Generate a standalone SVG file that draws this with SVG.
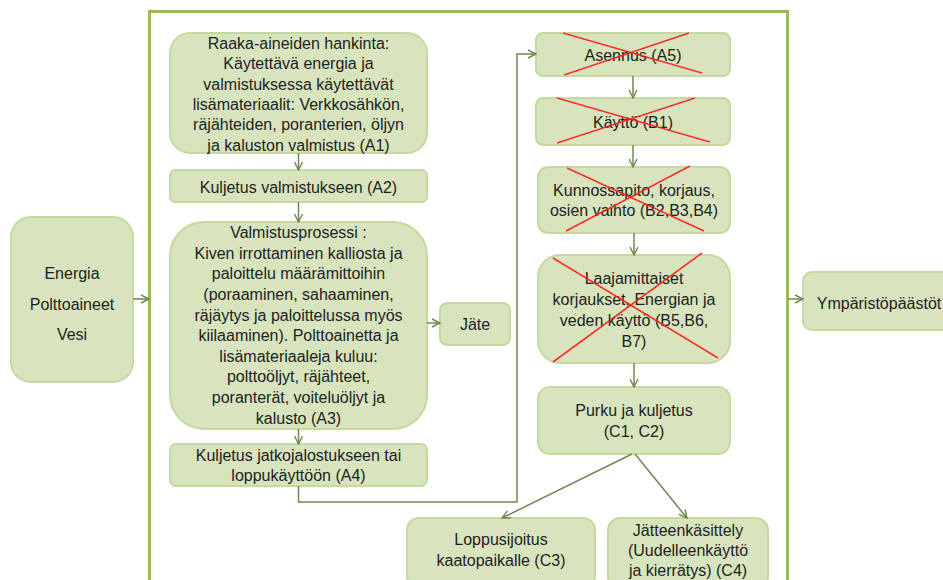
<svg xmlns="http://www.w3.org/2000/svg" width="943" height="580" viewBox="0 0 943 580">
<defs>
<style>
.box{fill:#d7e4bd;stroke:#c6d99f;stroke-width:2}
.frame{fill:none;stroke:#9bbb59;stroke-width:3}
.t{font-family:"Liberation Sans",Arial,sans-serif;font-size:16px;fill:#1e1e1e;text-anchor:middle}
.c{fill:none;stroke:#71874f;stroke-width:1.5}
.x{stroke:#ff1f1f;stroke-width:1.6;opacity:0.9}
</style>
<marker id="arr" viewBox="0 0 10 10" refX="9" refY="5" markerWidth="10" markerHeight="10" markerUnits="userSpaceOnUse" orient="auto">
<path d="M1,1 L9,5 L1,9" fill="none" stroke="#71874f" stroke-width="1.4"/>
</marker>
</defs>
<rect width="943" height="580" fill="#fff"/>
<rect class="frame" x="149.5" y="11.5" width="638" height="600"/>

<g id="energia">
<rect class="box" x="11" y="217" width="122" height="165" rx="20"/>
<text class="t" x="72" y="279">Energia</text>
<text class="t" x="72" y="309.5">Polttoaineet</text>
<text class="t" x="72" y="340">Vesi</text>
</g>

<g id="a1">
<rect class="box" x="170" y="33" width="257" height="120" rx="20"/>
<text class="t" x="298.5" y="48.8">Raaka-aineiden hankinta:</text>
<text class="t" x="298.5" y="69.2">Käytettävä energia ja</text>
<text class="t" x="298.5" y="89.6">valmistuksessa käytettävät</text>
<text class="t" x="298.5" y="110">lisämateriaalit: Verkkosähkön,</text>
<text class="t" x="298.5" y="130.4">räjähteiden, poranterien, öljyn</text>
<text class="t" x="298.5" y="150.8">ja kaluston valmistus (A1)</text>
</g>

<g id="a2">
<rect class="box" x="170" y="170" width="257" height="32" rx="5"/>
<text class="t" x="298.5" y="192.5">Kuljetus valmistukseen (A2)</text>
</g>

<g id="a3">
<rect class="box" x="170" y="222" width="257" height="207" rx="34"/>
<text class="t" x="298.5" y="238.2">Valmistusprosessi :</text>
<text class="t" x="298.5" y="258.8">Kiven irrottaminen kalliosta ja</text>
<text class="t" x="298.5" y="279.4">paloittelu määrämittoihin</text>
<text class="t" x="298.5" y="300">(poraaminen, sahaaminen,</text>
<text class="t" x="298.5" y="320.6">räjäytys ja paloittelussa myös</text>
<text class="t" x="298.5" y="341.2">kiilaaminen). Polttoainetta ja</text>
<text class="t" x="298.5" y="361.8">lisämateriaaleja kuluu:</text>
<text class="t" x="298.5" y="382.4">polttoöljyt,  räjähteet,</text>
<text class="t" x="298.5" y="403">poranterät, voiteluöljyt ja</text>
<text class="t" x="298.5" y="423.6">kalusto (A3)</text>
</g>

<g id="jate">
<rect class="box" x="440" y="303" width="70" height="42" rx="7"/>
<text class="t" x="475" y="329.5">Jäte</text>
</g>

<g id="a4">
<rect class="box" x="170" y="444" width="257" height="42" rx="6"/>
<text class="t" x="298.5" y="460.5">Kuljetus jatkojalostukseen tai</text>
<text class="t" x="298.5" y="481">loppukäyttöön (A4)</text>
</g>

<g id="a5">
<rect class="box" x="536" y="33" width="194" height="43" rx="7"/>
<text class="t" x="633" y="60.5">Asennus (A5)</text>
<line class="x" x1="563" y1="33" x2="702" y2="73"/>
<line class="x" x1="564" y1="75" x2="689" y2="33"/>
</g>

<g id="b1">
<rect class="box" x="536" y="98" width="194" height="47" rx="7"/>
<text class="t" x="633" y="127.5">Käyttö (B1)</text>
<line class="x" x1="557" y1="98" x2="710" y2="142"/>
<line class="x" x1="557" y1="143" x2="695" y2="98"/>
</g>

<g id="b2">
<rect class="box" x="538" y="167" width="192" height="66" rx="10"/>
<text class="t" x="634" y="195.5">Kunnossapito, korjaus,</text>
<text class="t" x="634" y="215.5">osien vaihto (B2,B3,B4)</text>
<line class="x" x1="567" y1="168" x2="704" y2="231"/>
<line class="x" x1="690" y1="166" x2="566" y2="231"/>
</g>

<g id="b3">
<rect class="box" x="538" y="255" width="192" height="108" rx="22"/>
<text class="t" x="634" y="283.5">Laajamittaiset</text>
<text class="t" x="634" y="304.5">korjaukset, Energian ja</text>
<text class="t" x="634" y="325.5">veden käyttö (B5,B6,</text>
<text class="t" x="634" y="346.5">B7)</text>
<line class="x" x1="553" y1="258" x2="718" y2="358"/>
<line class="x" x1="553" y1="362" x2="702" y2="253"/>
</g>

<g id="c12">
<rect class="box" x="538" y="387" width="192" height="67" rx="12"/>
<text class="t" x="634" y="415.5">Purku ja kuljetus</text>
<text class="t" x="634" y="436.5">(C1, C2)</text>
</g>

<g id="c3">
<rect class="box" x="407" y="518" width="188" height="70" rx="12"/>
<text class="t" x="501" y="544.5">Loppusijoitus</text>
<text class="t" x="501" y="565.5">kaatopaikalle (C3)</text>
</g>

<g id="c4">
<rect class="box" x="608" y="518" width="160" height="70" rx="12"/>
<text class="t" x="688" y="535.5">Jätteenkäsittely</text>
<text class="t" x="688" y="555.5">(Uudelleenkäyttö</text>
<text class="t" x="688" y="575.5">ja kierrätys) (C4)</text>
</g>

<g id="ymparisto">
<rect class="box" x="803" y="272" width="160" height="58" rx="9"/>
<text class="t" x="879" y="308.5">Ympäristöpäästöt</text>
</g>

<g id="connectors">
<line class="c" x1="133" y1="299" x2="149" y2="299" marker-end="url(#arr)"/>
<line class="c" x1="298.5" y1="153" x2="298.5" y2="170" marker-end="url(#arr)"/>
<line class="c" x1="298.5" y1="202" x2="298.5" y2="222" marker-end="url(#arr)"/>
<line class="c" x1="427" y1="323" x2="440" y2="323" marker-end="url(#arr)"/>
<line class="c" x1="298.5" y1="429" x2="298.5" y2="444" marker-end="url(#arr)"/>
<path class="c" d="M298.5,486 V502 H517 V54 H536" marker-end="url(#arr)"/>
<line class="c" x1="633" y1="76" x2="633" y2="98" marker-end="url(#arr)"/>
<line class="c" x1="633" y1="145" x2="633" y2="167" marker-end="url(#arr)"/>
<line class="c" x1="634" y1="233" x2="634" y2="255" marker-end="url(#arr)"/>
<line class="c" x1="634" y1="363" x2="634" y2="387" marker-end="url(#arr)"/>
<line class="c" x1="632" y1="454" x2="502" y2="518" marker-end="url(#arr)"/>
<line class="c" x1="635" y1="454" x2="687" y2="518" marker-end="url(#arr)"/>
<line class="c" x1="788" y1="299" x2="803" y2="299" marker-end="url(#arr)"/>
</g>
</svg>
